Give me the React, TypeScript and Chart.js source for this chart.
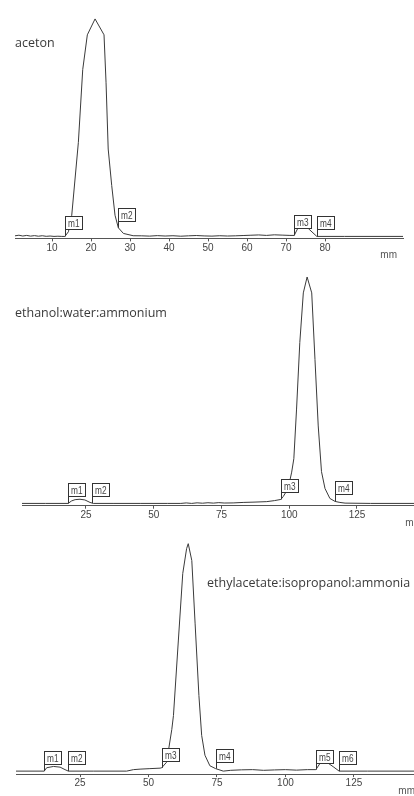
import { useEffect, useRef } from 'react';
import { Chart, registerables } from 'chart.js';

Chart.register(...registerables);

// ---------- Panel 1: aceton ----------
const acetonMm = [0.5, 1.5, 2.5, 3.5, 4.5, 5.5, 6.5, 7.5, 8.5, 9.5, 10.5, 11.5, 12.5, 13.3, 14.2, 15.05, 16.75, 17.87, 19.05, 21.03, 23.33, 23.85, 24.4, 25.3, 26.15, 27.0, 28.3, 30.8, 33, 35, 37, 39, 41, 43, 45, 47, 49, 51, 53, 55, 57, 59, 61, 63, 65, 67, 69, 71, 72.1, 73.0, 75.7, 77.9, 85, 100];
const acetonSignal = [0.6, 1.2, 0.4, 1.0, 0.3, 0.8, 0.2, 0.7, 0.1, 0.4, 0, 0.2, 0, 0, 4.7, 21.3, 94.7, 168, 203, 219, 203, 154.7, 88, 51.3, 21.3, 8.7, 3, 0.7, 0.6, 0.3, 0.8, 0.4, 0.7, 0.2, 0.6, 0.9, 0.5, 0.3, 0.7, 0.4, 0.6, 0.9, 1.2, 1.5, 1.0, 1.6, 1.3, 1.0, 1.0, 8, 8, 0, 0, 0];
const acetonTicks = [10, 20, 30, 40, 50, 60, 70, 80];
const acetonMarkerMm = [13.3, 27.0, 72.1, 77.9];
const acetonMarkerNames = ['m1', 'm2', 'm3', 'm4'];

// ---------- Panel 2: ethanol:water:ammonium ----------
const ethanolMm = [1.4, 10, 18.4, 19.7, 21, 22.8, 24.6, 26.5, 27.7, 35, 45, 55, 60, 62, 64, 66, 68, 70, 72, 74, 76, 79.3, 83, 87, 91.7, 94.5, 96.9, 97.8, 99.6, 100.9, 101.7, 102.7, 103.9, 105.2, 106.6, 108.3, 109.5, 110.7, 111.9, 113.2, 115, 116.9, 118.7, 120.6, 130, 151.2];
const ethanolSignal = [0, 0, 0, 2.5, 3.8, 4.2, 3.5, 1, 0, 0, 0, 0, 0, 0.5, 0, 0.6, 0.2, 0.7, 0.3, 0.8, 0.4, 0.5, 1.0, 1.3, 1.8, 2.8, 4, 7, 15, 31.5, 45, 95, 162, 212, 228, 212, 145, 78, 32, 15, 5, 2, 1, 0.3, 0, 0];
const ethanolTicks = [25, 50, 75, 100, 125];
const ethanolMarkerMm = [18.4, 27.3, 96.9, 116.9];
const ethanolMarkerNames = ['m1', 'm2', 'm3', 'm4'];

// ---------- Panel 3: ethylacetate:isopropanol:ammonia ----------
const ethylMm = [1.6, 11.9, 12.8, 15.3, 17.7, 19.5, 20.7, 30, 42, 44.5, 46.9, 50.5, 54.2, 54.8, 56.6, 58.5, 59.1, 60.9, 62.5, 63.9, 64.5, 65.8, 67, 68.4, 69.4, 70.6, 72.4, 74.5, 77.3, 80, 84, 88, 92, 96, 100, 104, 108, 111.1, 112.6, 115.6, 117.4, 119.6, 130, 149.5];
const ethylSignal = [0, 0, 3.4, 4.7, 4, 1.5, 0, 0, 0, 1.5, 2, 2.5, 3, 3.3, 9, 42, 56, 132, 199, 224, 229, 212, 149, 76, 36, 16, 5.4, 2.5, 0, 0.8, 1.3, 1.5, 0.8, 1.2, 1.5, 1, 1.5, 1.5, 7.7, 8, 4.5, 0, 0, 0];
const ethylTicks = [25, 50, 75, 100, 125];
const ethylMarkerMm = [11.9, 20.7, 54.8, 74.5, 111.1, 119.6];
const ethylMarkerNames = ['m1', 'm2', 'm3', 'm4', 'm5', 'm6'];

type Panel = {
  title: string;
  mm: number[];
  signal: number[];
  ticks: number[];
  markerMm: number[];
  markerNames: string[];
  xMin: number;
  xMax: number;
  yMin: number;
  yMax: number;
  top: number;
  width: number;
  height: number;
  pad: { left: number; right: number; top: number; bottom: number };
  titleX: number;
  titleY: number;
};

const panels: Panel[] = [
  {
    title: 'aceton', mm: acetonMm, signal: acetonSignal, ticks: acetonTicks,
    markerMm: acetonMarkerMm, markerNames: acetonMarkerNames,
    xMin: 0.5, xMax: 100, yMin: -2, yMax: 228,
    top: 0, width: 414, height: 270,
    pad: { left: 15, right: 11, top: 10, bottom: 14.4 },
    titleX: 15, titleY: 47,
  },
  {
    title: 'ethanol:water:ammonium', mm: ethanolMm, signal: ethanolSignal, ticks: ethanolTicks,
    markerMm: ethanolMarkerMm, markerNames: ethanolMarkerNames,
    xMin: 1.4, xMax: 151.2, yMin: -2.3, yMax: 230,
    top: 265, width: 440, height: 270,
    pad: { left: 22, right: 12, top: 10, bottom: 12.1 },
    titleX: 15, titleY: 52,
  },
  {
    title: 'ethylacetate:isopropanol:ammonia', mm: ethylMm, signal: ethylSignal, ticks: ethylTicks,
    markerMm: ethylMarkerMm, markerNames: ethylMarkerNames,
    xMin: 1.6, xMax: 149.5, yMin: -3, yMax: 232.7,
    top: 530, width: 440, height: 270,
    pad: { left: 16, right: 19, top: 10, bottom: 8.7 },
    titleX: 207, titleY: 57,
  },
];

const NARROW = "'Liberation Sans Narrow', 'Liberation Sans', Arial, sans-serif";

function interp(xs: number[], ys: number[], v: number): number {
  if (v <= xs[0]) return ys[0];
  for (let i = 1; i < xs.length; i++) {
    if (v <= xs[i]) {
      const t = (v - xs[i - 1]) / (xs[i] - xs[i - 1]);
      return ys[i - 1] + t * (ys[i] - ys[i - 1]);
    }
  }
  return ys[ys.length - 1];
}

function tickFontSize(): number {
  const c = document.createElement('canvas').getContext('2d');
  if (!c) return 10;
  c.font = `11px ${NARROW}`;
  const w = c.measureText('10').width;
  return w > 10.5 ? 10 : 11;
}

function makeAnnotations(p: Panel) {
  return {
    id: 'annotations',
    afterDatasetsDraw(chart: any) {
      const { ctx, chartArea } = chart;
      const xs = chart.scales.x;
      const ys = chart.scales.y;
      ctx.save();
      // title
      ctx.font = "12.5px 'Open Sans', sans-serif";
      ctx.fillStyle = '#3a3a3a';
      ctx.textAlign = 'left';
      ctx.textBaseline = 'alphabetic';
      ctx.fillText(p.title, p.titleX, p.titleY);
      // unit
      ctx.font = `10px ${NARROW}`;
      ctx.fillStyle = '#555';
      ctx.textAlign = 'right';
      ctx.fillText('mm', chartArea.right - 6, chartArea.bottom + 20);
      // markers
      ctx.lineWidth = 1;
      p.markerMm.forEach((m, i) => {
        const px = Math.round(xs.getPixelForValue(m)) + 0.5;
        const py = ys.getPixelForValue(interp(p.mm, p.signal, m));
        const bottom = Math.round(py - 7) + 0.5;
        const w = 17;
        const h = 13;
        ctx.fillStyle = '#fff';
        ctx.fillRect(px, bottom - h, w, h);
        ctx.strokeStyle = '#333';
        ctx.strokeRect(px, bottom - h, w, h);
        ctx.beginPath();
        ctx.moveTo(px, bottom);
        ctx.lineTo(px, py);
        ctx.stroke();
        ctx.fillStyle = '#444';
        ctx.textAlign = 'left';
        ctx.font = `11px ${NARROW}`;
        const label = p.markerNames[i];
        const tw = ctx.measureText(label).width;
        const sx = Math.min(1, 11.5 / tw);
        ctx.save();
        ctx.translate(px + 2.5, bottom - 2.5);
        ctx.scale(sx, 1);
        ctx.fillText(label, 0, 0);
        ctx.restore();
      });
      ctx.restore();
    },
  };
}

function PanelChart({ p }: { p: Panel }) {
  const ref = useRef<HTMLCanvasElement | null>(null);
  useEffect(() => {
    if (!ref.current) return;
    const points = p.mm.map((x, i) => ({ x, y: p.signal[i] }));
    const fs = tickFontSize();
    const chart = new Chart(ref.current, {
      type: 'line',
      data: {
        datasets: [
          {
            data: points,
            borderColor: '#3a3a3a',
            borderWidth: 1,
            pointRadius: 0,
            tension: 0,
            fill: false,
          },
        ],
      },
      options: {
        animation: false,
        responsive: false,
        maintainAspectRatio: false,
        events: [],
        layout: { padding: { ...p.pad, bottom: p.pad.bottom + (11 - fs) * 1.2 } },
        plugins: {
          legend: { display: false },
          tooltip: { enabled: false },
          title: { display: false },
        },
        scales: {
          x: {
            type: 'linear',
            min: p.xMin,
            max: p.xMax,
            afterBuildTicks: (scale: any) => {
              scale.ticks = p.ticks.map((v) => ({ value: v }));
            },
            ticks: {
              autoSkip: false,
              maxRotation: 0,
              padding: 0.5,
              color: '#444',
              font: { family: NARROW, size: fs },
              callback: (v: any) => String(v),
            },
            grid: {
              display: true,
              drawOnChartArea: false,
              drawTicks: true,
              tickLength: 3,
              color: '#555',
            },
            border: { display: true, color: '#555', width: 1 },
          },
          y: {
            type: 'linear',
            display: false,
            min: p.yMin,
            max: p.yMax,
          },
        },
      },
      plugins: [makeAnnotations(p)],
    } as any);
    return () => chart.destroy();
  }, [p]);
  return (
    <div style={{ position: 'absolute', left: 0, top: p.top, width: p.width, height: p.height }}>
      <canvas ref={ref} width={p.width} height={p.height} style={{ display: 'block' }} />
    </div>
  );
}

export default function App() {
  return (
    <div
      style={{
        position: 'fixed',
        left: 0,
        top: 0,
        width: 414,
        height: 796,
        overflow: 'hidden',
        background: '#fff',
      }}
    >
      {panels.map((p) => (
        <PanelChart key={p.title} p={p} />
      ))}
    </div>
  );
}
